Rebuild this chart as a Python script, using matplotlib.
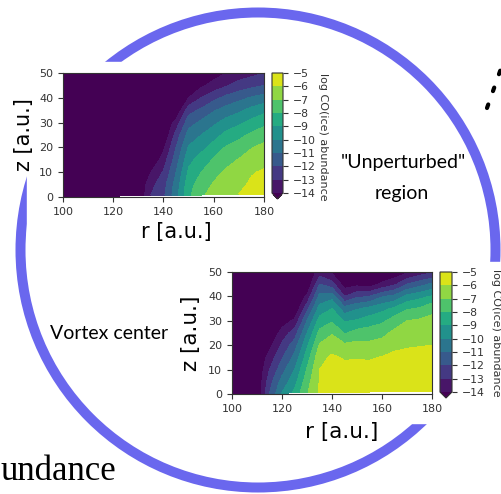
import numpy as np
import matplotlib

matplotlib.use("Agg")
import matplotlib.pyplot as plt
from matplotlib.patches import Circle, Rectangle

W, H = 501, 494

# grid of the two model panels (r columns, z rows)
R_AU = [100, 105, 110, 115, 120, 125, 130, 135, 140, 145, 150, 155, 160, 165, 170, 175, 180]
Z_AU = [0, 5, 10, 15, 20, 25, 30, 35, 40, 45, 50]
# lowest z of each column (data starts slightly above the midplane for r >= 125)
Z_FLOOR = [0, 0, 0, 0, 0, 0.8, 0.8, 0.8, 0.8, 0.8, 0.8, 0.8, 1.2, 1.2, 1.2, 1.2, 1.2]

LEVELS = [-14, -13, -12, -11, -10, -9, -8, -7, -6, -5]

# log CO(ice) abundance, one list per r column, z = 0..50
UNPERTURBED = [
    [-15] * 11,
    [-15] * 11,
    [-15] * 11,
    [-15] * 11,
    [-15] * 11,
    [-15] * 11,
    [-15] * 11,
    [-13.0, -13.3, -14.0, -15, -15, -15, -15, -15, -15, -15, -15],
    [-12.2, -12.4, -12.9, -13.5, -14.2, -15, -15, -15, -15, -15, -15],
    [-10.4, -10.6, -11.0, -11.5, -12.0, -12.6, -13.6, -15, -15, -15, -15],
    [-8.2, -8.4, -8.8, -9.3, -9.9, -10.6, -11.4, -12.4, -14.0, -15, -15],
    [-7.2, -7.5, -8.0, -8.6, -9.3, -10.0, -10.8, -11.8, -13.0, -14.2, -15],
    [-6.6, -6.9, -7.3, -7.9, -8.6, -9.4, -10.2, -11.1, -12.3, -13.6, -14.5],
    [-6.3, -6.55, -6.85, -7.3, -7.9, -8.7, -9.6, -10.6, -11.7, -13.1, -14.0],
    [-6.0, -6.3, -6.6, -6.95, -7.5, -8.3, -9.2, -10.2, -11.3, -12.6, -13.6],
    [-5.6, -5.8, -6.1, -6.6, -7.05, -7.8, -8.7, -9.7, -10.9, -12.3, -13.3],
    [-5.3, -5.5, -5.85, -6.35, -6.75, -7.4, -8.3, -9.3, -10.6, -12.0, -13.0],
]

VORTEX = [
    [-15] * 11,
    [-15] * 11,
    [-15] * 11,
    [-12.0, -12.4, -13.0, -13.6, -14.3, -15, -15, -15, -15, -15, -15],
    [-9.9, -10.6, -11.4, -12.1, -12.8, -13.6, -14.5, -15, -15, -15, -15],
    [-8.8, -9.4, -10.0, -10.7, -11.5, -12.5, -13.8, -15, -15, -15, -15],
    [-7.1, -7.4, -7.9, -8.5, -9.2, -10.0, -11.0, -12.3, -13.8, -15, -15],
    [-5.9, -5.95, -6.0, -6.3, -6.9, -7.7, -8.6, -9.6, -10.7, -12.0, -13.5],
    [-5.3, -5.35, -5.5, -5.85, -6.4, -7.1, -8.1, -9.0, -10.4, -12.6, -14.2],
    [-5.3, -5.4, -5.7, -6.1, -6.8, -8.1, -9.1, -10.6, -13.0, -14.5, -15],
    [-5.3, -5.4, -5.7, -6.05, -6.7, -7.6, -8.9, -10.1, -12.2, -14.3, -15],
    [-5.3, -5.4, -5.7, -6.1, -6.75, -7.5, -8.5, -9.7, -12.0, -14.5, -15],
    [-5.3, -5.35, -5.6, -5.95, -6.6, -7.3, -8.2, -9.3, -11.1, -13.8, -15],
    [-5.2, -5.3, -5.5, -5.8, -6.2, -6.75, -7.5, -8.8, -10.7, -13.2, -14.8],
    [-5.2, -5.25, -5.4, -5.7, -6.1, -6.55, -7.0, -8.1, -9.7, -12.0, -14.2],
    [-5.2, -5.25, -5.4, -5.65, -6.05, -6.45, -6.85, -7.9, -9.3, -11.4, -13.6],
    [-5.2, -5.25, -5.4, -5.6, -6.0, -6.4, -6.75, -7.25, -8.9, -10.8, -13.2],
]

RING_COLOR = "#6A67EE"
TICK_COLOR = "#333333"


def px_box(x0, y0, x1, y1):
    """pixel box (top-left origin) -> figure fraction [l, b, w, h]"""
    return [x0 / W, 1 - y1 / H, (x1 - x0) / W, (y1 - y0) / H]


def panel(fig, ax_px, cax_px, values, label_fs, xlab_xy, ylab_xy, cbl_xy):
    ax = fig.add_axes(px_box(*ax_px))
    cax = fig.add_axes(px_box(*cax_px))
    rr, zz = np.meshgrid(R_AU, Z_AU)
    zz = zz.astype(float)
    zz[0, :] = Z_FLOOR
    data = np.array(values, dtype=float).T
    cs = ax.contourf(rr, zz, data, levels=LEVELS, cmap="viridis", extend="min")
    ax.set_xlim(100, 180)
    ax.set_ylim(0, 50)
    ax.set_xticks([100, 120, 140, 160, 180])
    ax.set_yticks([0, 10, 20, 30, 40, 50])
    ax.tick_params(labelsize=8, labelcolor=TICK_COLOR, color=TICK_COLOR)
    ax.set_xlabel("r [a.u.]", fontsize=label_fs, va="center")
    ax.set_ylabel("z [a.u.]", fontsize=label_fs, va="center")
    ax.xaxis.set_label_coords(*xlab_xy)
    ax.yaxis.set_label_coords(*ylab_xy)
    for s in ax.spines.values():
        s.set_color(TICK_COLOR)

    cb = fig.colorbar(cs, cax=cax, ticks=LEVELS)
    cb.ax.tick_params(labelsize=7.8, labelcolor=TICK_COLOR, color=TICK_COLOR)
    cb.ax.set_yticklabels([f"\u2212{abs(v)}" for v in LEVELS])
    cb.outline.set_edgecolor(TICK_COLOR)
    fig.text(cbl_xy[0] / W, 1 - cbl_xy[1] / H, "log CO(ice) abundance",
             rotation=270, ha="center", va="center", fontsize=8, color=TICK_COLOR)
    return ax


fig = plt.figure(figsize=(W / 100, H / 100), dpi=100)

# background layer in pixel coordinates: ring, labels, masks behind the insets
bg = fig.add_axes([0, 0, 1, 1])
bg.set_xlim(0, W)
bg.set_ylim(H, 0)
bg.axis("off")
bg.add_patch(Circle((258, 250), 237.5, fill=False, lw=7.2, color=RING_COLOR, zorder=1))
bg.add_patch(Rectangle((27, 62), 308, 183, color="white", zorder=2))
bg.add_patch(Rectangle((175, 262), 330, 161, color="white", zorder=2))
bg.plot([487, 504], [108, 60], color="black", lw=3.0,
        linestyle=(0, (0.9, 3.4)), dash_capstyle="round", zorder=3)

bg.text(403, 162, "\"Unperturbed\"", ha="center", va="center",
        fontsize=14, family="Lato", zorder=3)
bg.text(402, 193, "region", ha="center", va="center",
        fontsize=14, family="Lato", zorder=3)
bg.text(109, 333, "Vortex center", ha="center", va="center",
        fontsize=14, family="Lato", zorder=3)
bg.text(1, 480, "undance", ha="left", va="baseline",
        fontsize=25, family="Liberation Serif", zorder=3)

panel(fig, (63, 73, 264, 197), (272, 73, 283, 199), UNPERTURBED, 15,
      ((176 - 63) / 201, -35 / 124), ((24 - 63) / 201, 0.5), (323, 137))
panel(fig, (232, 272, 432, 394), (440, 272, 452, 398), VORTEX, 15.5,
      ((341.7 - 232) / 200, -38 / 122), ((191 - 232) / 200, 0.5), (496, 333))

fig.savefig("out.png", dpi=100)
